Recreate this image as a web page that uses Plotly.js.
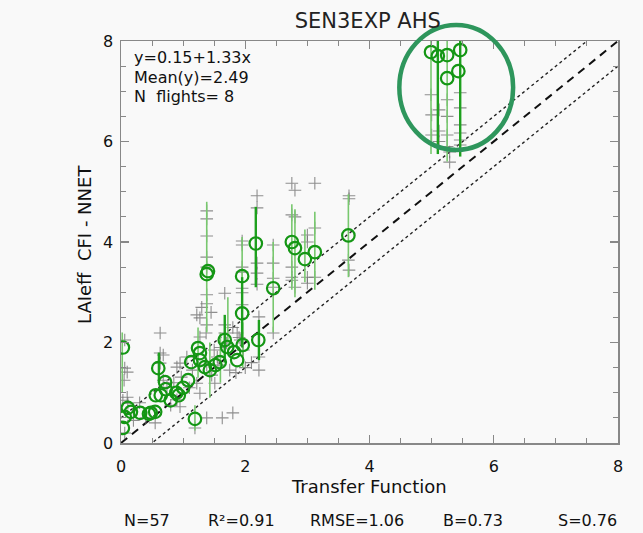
<!DOCTYPE html>
<html>
<head>
<meta charset="utf-8">
<script src="https://cdn.plot.ly/plotly-3.0.1.min.js"></script>
<style>html,body{margin:0;padding:0;background:#f9f9f9;}</style>
</head>
<body>
<div id="chart" style="width:643px;height:533px;"></div>
<script>
// Reference lines (1:1 and +/-0.5 envelope)
const lineX = [0, 8];
const oneToOne = [0, 8];
const upperEnv = [0.5, 8.5];
const lowerEnv = [-0.5, 7.5];

// Flight-mean circles
const circX = [4.99, 5.10, 5.25, 5.46, 5.25, 5.43,
  1.38, 1.40, 1.95, 2.17, 2.45, 2.75, 2.80, 2.96, 3.12, 3.66, 1.95,
  0.03, 1.24, 1.27, 1.13, 0.60, 1.08, 0.71, 0.72, 0.64, 0.56, 0.89, 0.93,
  0.11, 0.16, 0.31, 0.48, 0.55, 0.06, 0.03, 1.19, 1.35, 1.43, 1.27, 1.59,
  1.67, 1.71, 1.82, 1.87, 1.96, 2.21, 0.45, 0.80, 1.52, 1.00];
const circY = [7.78, 7.70, 7.72, 7.82, 7.26, 7.40,
  3.36, 3.42, 3.32, 3.97, 3.08, 4.00, 3.88, 3.66, 3.80, 4.13, 2.58,
  1.90, 1.89, 1.79, 1.61, 1.49, 1.25, 1.21, 1.07, 0.95, 0.95, 1.00, 0.95,
  0.70, 0.62, 0.60, 0.60, 0.62, 0.52, 0.30, 0.48, 1.51, 1.45, 1.65, 1.61,
  2.05, 1.91, 1.81, 1.65, 1.95, 2.05, 0.58, 0.85, 1.55, 1.10];

// Light-green ranges
const lightX  = [4.99, 5.25, 1.38, 1.95, 2.45, 2.75, 2.80, 2.96, 3.12, 3.66, 0.02, 1.24, 1.43, 1.60, 1.19, 1.96, 1.72];
const lightLo = [5.75, 5.60, 2.20, 2.30, 2.20, 3.05, 2.90, 3.20, 3.05, 3.30, 1.00, 1.30, 0.90, 1.20, 0.25, 1.50, 2.00];
const lightHi = [8.40, 8.40, 4.80, 4.10, 4.00, 4.75, 4.65, 4.25, 4.60, 4.95, 2.20, 2.30, 2.00, 2.20, 0.75, 2.40, 2.90];

// Dark-green ranges
const darkX  = [5.10, 5.46, 2.17, 1.95, 2.22, 1.67, 0.61];
const darkLo = [5.75, 5.70, 3.10, 1.90, 1.65, 1.60, 1.20];
const darkHi = [8.40, 8.40, 4.70, 3.30, 2.45, 2.55, 1.80];

// Individual samples (gray crosses)
const crossX = [
  4.99, 5.00, 5.00, 5.12, 5.12, 5.12, 5.25, 5.25, 5.25, 5.25, 5.29, 5.29, 5.46, 5.46, 5.46, 5.46, 5.46, 5.46,
  1.22, 1.67, 2.19, 2.19, 2.19, 2.19, 2.19,
  1.38, 1.38, 1.38, 1.38, 1.38, 1.38, 1.38,
  1.95, 1.95, 1.95, 1.95, 1.95, 1.95, 1.95,
  2.45, 2.45, 2.45, 2.45,
  2.75, 2.75, 2.75, 2.75, 2.75,
  2.80, 2.80, 2.80,
  3.00, 3.00, 3.00, 3.00,
  3.12, 3.12, 3.12,
  3.67, 3.67, 3.67, 3.66,
  0.63, 1.27, 1.38, 1.37, 1.27, 1.67, 1.67, 1.70, 1.87, 1.92, 1.97, 2.22, 2.22, 2.22, 2.45,
  0.63, 0.68, 0.63, 0.90, 0.95, 1.06, 0.68, 0.74, 0.90, 0.95, 0.97, 1.22, 1.27, 1.38, 1.46, 1.51,
  1.55, 1.56, 1.38, 1.63, 1.80, 1.19, 0.10, 0.03, 0.11, 0.06, 0.06, 0.06, 0.10, 0.05, 1.50, 1.60,
  1.80, 2.00, 2.10, 1.75, 1.85, 1.30, 1.45, 0.40, 0.30, 0.20, 0.80, 0.85, 1.10, 1.15, 1.90, 0.55];
const crossY = [
  6.93, 6.53, 6.13, 6.63, 6.21, 6.00, 6.83, 6.50, 6.13, 5.90, 5.79, 5.59, 6.97, 6.67, 6.33, 6.17, 6.03, 5.93,
  2.55, 2.98, 4.92, 4.68, 3.58, 3.38, 3.16,
  4.62, 4.46, 4.12, 3.70, 3.50, 2.95, 2.77,
  4.02, 3.94, 3.50, 3.40, 3.08, 2.99, 2.75,
  3.94, 3.58, 3.28, 3.10,
  5.17, 4.54, 3.50, 3.30, 3.24,
  5.03, 4.50, 3.10,
  4.14, 4.00, 3.30, 3.18,
  5.17, 4.28, 3.30,
  4.92, 4.86, 3.44, 3.64,
  2.19, 2.49, 2.35, 2.19, 2.11, 2.35, 2.19, 1.99, 2.19, 2.05, 1.85, 2.51, 1.71, 1.45, 2.19,
  1.79, 1.75, 1.59, 1.51, 1.59, 1.71, 1.25, 1.11, 0.86, 0.72, 1.31, 1.19, 0.99, 1.55, 1.35, 1.19,
  1.71, 1.55, 0.50, 0.50, 0.60, 0.30, 0.91, 0.85, 0.79, 0.20, 2.05, 1.49, 1.41, 1.25, 1.85, 1.90,
  2.30, 1.50, 1.60, 1.45, 1.40, 2.70, 2.60, 0.50, 0.80, 0.45, 0.75, 1.20, 1.10, 1.45, 2.10, 0.40];

const mid = (lo, hi) => lo.map((v, i) => (v + hi[i]) / 2);
const half = (lo, hi) => lo.map((v, i) => (hi[i] - v) / 2);

const FONT = 'DejaVu Sans, Liberation Sans, sans-serif';
const GRAYX = 'rgba(115,115,115,0.8)';
const traces = [
  {x: lineX, y: upperEnv, mode: 'lines', line: {color: '#222', width: 1.4, dash: 'dot'}, hoverinfo: 'skip'},
  {x: lineX, y: lowerEnv, mode: 'lines', line: {color: '#222', width: 1.4, dash: 'dot'}, hoverinfo: 'skip'},
  {x: lineX, y: oneToOne, mode: 'lines', line: {color: '#111', width: 2, dash: '8px,6px'}, hoverinfo: 'skip'},
  {x: crossX, y: crossY, mode: 'markers',
   marker: {symbol: 'cross-thin-open', size: 9, color: GRAYX, line: {color: GRAYX, width: 1.1}}},
  {x: lightX, y: mid(lightLo, lightHi), mode: 'markers', marker: {size: 0.1, opacity: 0},
   error_y: {type: 'data', array: half(lightLo, lightHi), color: 'rgb(120,200,110)', thickness: 1.6, width: 0}},
  {x: darkX, y: mid(darkLo, darkHi), mode: 'markers', marker: {size: 0.1, opacity: 0},
   error_y: {type: 'data', array: half(darkLo, darkHi), color: 'rgb(30,160,30)', thickness: 2.4, width: 0}},
  {x: circX, y: circY, mode: 'markers',
   marker: {symbol: 'circle-open', size: 12.5, color: 'rgb(20,150,20)', line: {color: 'rgb(20,150,20)', width: 2.2}}}
];

const axisCommon = {
  range: [0, 8], dtick: 2, tick0: 0, autorange: false,
  showgrid: false, zeroline: false,
  showline: true, linecolor: '#888', linewidth: 1.5, mirror: 'ticks',
  ticks: 'inside', ticklen: 8, tickwidth: 1.2, tickcolor: '#888',
  minor: {dtick: 0.5, ticks: 'inside', ticklen: 5, tickwidth: 1, tickcolor: '#888', showgrid: false},
  tickfont: {family: FONT, size: 16, color: '#111'}
};

const ann = (text, x, y, opts) => Object.assign({text, x, y, xref: 'paper', yref: 'paper', showarrow: false,
  font: {family: FONT, size: 16, color: '#111'}}, opts || {});

const layout = {
  width: 643, height: 533,
  margin: {l: 121, r: 25, t: 41, b: 90},
  paper_bgcolor: '#f9f9f9', plot_bgcolor: '#f9f9f9',
  showlegend: false,
  title: {text: 'SEN3EXP AHS', xref: 'container', yref: 'container', x: 0.572, y: 0.962,
          xanchor: 'center', yanchor: 'middle', font: {family: FONT, size: 21, color: '#222'}},
  xaxis: Object.assign({}, axisCommon, {ticklabelstandoff: 8}),
  yaxis: Object.assign({}, axisCommon, {ticklabelstandoff: 3}),
  annotations: [
    ann('y=0.15+1.33x', 0.022, 0.960, {xanchor: 'left', yanchor: 'middle'}),
    ann('Mean(y)=2.49', 0.022, 0.910, {xanchor: 'left', yanchor: 'middle'}),
    ann('N  flights= 8', 0.022, 0.861, {xanchor: 'left', yanchor: 'middle'}),
    ann('Transfer Function', 0.499, -0.109, {xanchor: 'center', yanchor: 'middle', font: {family: FONT, size: 18, color: '#111'}}),
    ann('LAIeff  CFI - NNET', -0.0744, 0.4925, {xanchor: 'center', yanchor: 'middle', textangle: -90, font: {family: FONT, size: 18, color: '#111'}}),
    ann('N=57', 0.052, -0.192, {xanchor: 'center', yanchor: 'middle'}),
    ann('R²=0.91', 0.243, -0.192, {xanchor: 'center', yanchor: 'middle'}),
    ann('RMSE=1.06', 0.475, -0.192, {xanchor: 'center', yanchor: 'middle'}),
    ann('B=0.73', 0.708, -0.192, {xanchor: 'center', yanchor: 'middle'}),
    ann('S=0.76', 0.938, -0.192, {xanchor: 'center', yanchor: 'middle'})
  ],
  shapes: [
    {type: 'circle', xref: 'x domain', yref: 'y domain', x0: 0.56, x1: 0.789, y0: 0.729, y1: 1.04,
     line: {color: 'rgb(46,150,92)', width: 4.5}, fillcolor: 'rgba(0,0,0,0)'}
  ]
};

Plotly.newPlot('chart', traces, layout, {displayModeBar: false, staticPlot: true});
</script>
</body>
</html>
